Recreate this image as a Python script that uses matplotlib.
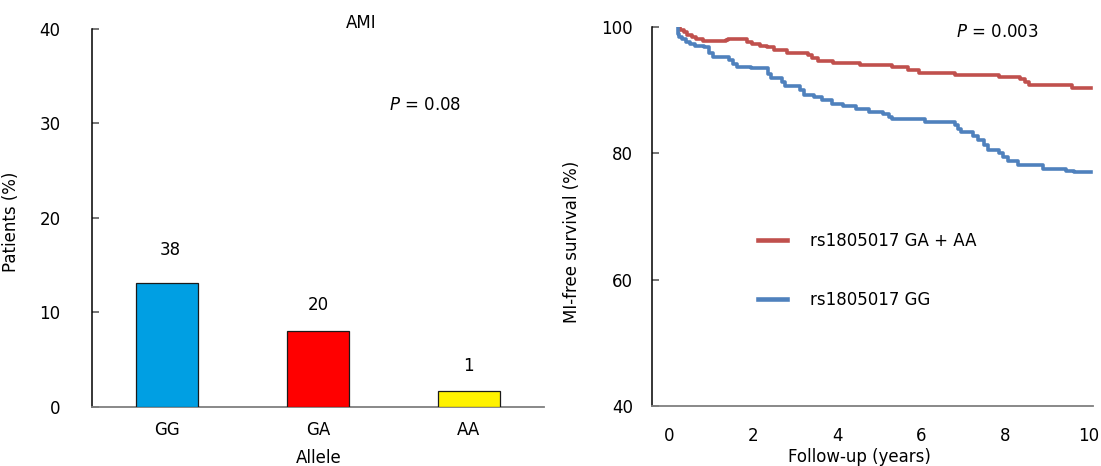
import matplotlib
matplotlib.use("Agg")
import matplotlib.pyplot as plt
from matplotlib.lines import Line2D

plt.rcParams['font.family'] = ['DejaVu Sans']
plt.rcParams['font.size'] = 12

# ---------------- data ----------------
alleles = ["GG", "GA", "AA"]
patients_pct = [13.05, 7.98, 1.66]
patients_n = ["38", "20", "1"]
bar_colors = ["#009FE3", "#FF0000", "#FFF200"]

t_gaaa = [0.25, 0.27, 0.35, 0.43, 0.55, 0.65, 0.80, 1.35, 1.40, 1.85, 1.97, 2.17, 2.33,
          2.49, 2.81, 3.30, 3.40, 3.55, 3.90, 4.55, 5.30, 5.70, 5.95, 6.80, 7.85, 8.35,
          8.48, 8.58, 9.60, 10.05]
s_gaaa = [100.0, 99.6, 99.2, 98.8, 98.4, 98.1, 97.8, 98.0, 98.1, 97.7, 97.3, 97.1, 96.8,
          96.4, 96.0, 95.6, 95.1, 94.6, 94.4, 94.1, 93.7, 93.2, 92.8, 92.4, 92.1, 91.8,
          91.4, 90.9, 90.4, 90.4]

t_gg = [0.21, 0.22, 0.23, 0.31, 0.40, 0.50, 0.62, 0.82, 0.95, 1.05, 1.42, 1.52, 1.62,
        1.95, 2.35, 2.42, 2.68, 2.75, 3.12, 3.22, 3.44, 3.65, 3.88, 4.15, 4.45, 4.75,
        5.10, 5.25, 5.32, 6.10, 6.80, 6.88, 6.95, 7.25, 7.37, 7.50, 7.60, 7.85, 7.95,
        8.08, 8.30, 8.90, 9.45, 9.65, 10.05]
s_gg = [100.0, 99.0, 98.5, 98.1, 97.6, 97.3, 97.0, 96.8, 96.0, 95.3, 94.8, 94.2, 93.7,
        93.5, 92.6, 91.9, 91.3, 90.7, 90.0, 89.3, 88.9, 88.4, 87.9, 87.5, 87.0, 86.6,
        86.3, 85.8, 85.4, 85.0, 84.5, 83.9, 83.4, 82.8, 82.1, 81.3, 80.6, 80.0, 79.4,
        78.8, 78.2, 77.6, 77.2, 77.0, 77.0]

labels_km = ["rs1805017 GA + AA", "rs1805017 GG"]
km_colors = ["#C0504D", "#4F81BD"]

left_yticks = [0, 10, 20, 30, 40]
right_yticks = [40, 60, 80, 100]
right_xticks = [0, 2, 4, 6, 8, 10]

# ---------------- figure ----------------
fig = plt.figure(figsize=(11.01, 4.66), dpi=100)
ax1 = fig.add_axes([0.0833, 0.1273, 0.4111, 0.8105])
ax2 = fig.add_axes([0.5925, 0.1294, 0.4003, 0.8120])

tick_col = "#505050"
for ax in (ax1, ax2):
    ax.spines['top'].set_visible(False)
    ax.spines['right'].set_visible(False)
    ax.spines['left'].set_color("black")
    ax.spines['left'].set_linewidth(1.1)
    ax.spines['bottom'].set_color("#7F7F7F")
    ax.spines['bottom'].set_linewidth(1.3)
    ax.tick_params(axis='y', direction='in', length=5, width=1.1, color=tick_col,
                   labelsize=12)
    ax.tick_params(axis='x', length=0, labelsize=12)

# ---- left: bar chart ----
x = list(range(len(alleles)))
bars = ax1.bar(x, patients_pct, width=0.407, color=bar_colors, edgecolor="#1a1a1a",
               linewidth=0.9, zorder=3)
ax1.set_xlim(-0.5, 2.5)
ax1.set_ylim(0, 40)
ax1.set_yticks(left_yticks)
ax1.set_xticks(x)
ax1.set_xticklabels(alleles)
ax1.tick_params(axis='y', pad=22.5)
ax1.tick_params(axis='x', pad=10)

label_offsets_pt = [24, 19, 18]
for xi, v, n, off in zip(x, patients_pct, patients_n, label_offsets_pt):
    ax1.annotate(n, (xi, v), xytext=(2 if n == "38" else 0, off), textcoords="offset points",
                 ha="center", va="center", fontsize=12)

ax1.set_ylabel("Patients (%)", fontsize=12)
ax1.yaxis.set_label_coords(-0.159, 0.49)
ax1.set_xlabel("Allele", fontsize=12)
ax1.xaxis.label.set_va("baseline")
ax1.xaxis.set_label_coords(0.502, -0.149)

ax1.text(0.596, 1.017, "AMI", transform=ax1.transAxes, ha="center", va="center",
         fontsize=12)
ax1.text(0.736, 0.799, r"$\mathit{P}$ = 0.08", transform=ax1.transAxes, ha="center",
         va="center", fontsize=12)

# ---- right: KM curves ----
l1, = ax2.plot(t_gaaa, s_gaaa, drawstyle="steps-post", color=km_colors[0], lw=2.6,
               label=labels_km[0])
l2, = ax2.plot(t_gg, s_gg, drawstyle="steps-post", color=km_colors[1], lw=2.6,
               label=labels_km[1])
ax2.set_xlim(-0.4, 10.1)
ax2.set_ylim(40, 100)
ax2.set_yticks(right_yticks)
ax2.set_xticks(right_xticks)
ax2.tick_params(axis='y', pad=14)
ax2.tick_params(axis='x', pad=15)

ax2.set_ylabel("MI-free survival (%)", fontsize=12)
ax2.yaxis.set_label_coords(-0.161, 0.433)
ax2.set_xlabel("Follow-up (years)", fontsize=12)
ax2.xaxis.label.set_va("baseline")
ax2.xaxis.set_label_coords(0.471, -0.149)

ax2.text(0.784, 0.987, r"$\mathit{P}$ = 0.003", transform=ax2.transAxes, ha="center",
         va="center", fontsize=12)

handles = [Line2D([], [], color=l.get_color(), lw=3.3) for l in (l1, l2)]
ax2.legend(handles, labels_km, loc="upper left", bbox_to_anchor=(0.24, 0.459),
           frameon=False, borderpad=0, borderaxespad=0, handlelength=1.74,
           handletextpad=1.38, labelspacing=2.47, fontsize=12)

fig.savefig("out.png", dpi=100)
